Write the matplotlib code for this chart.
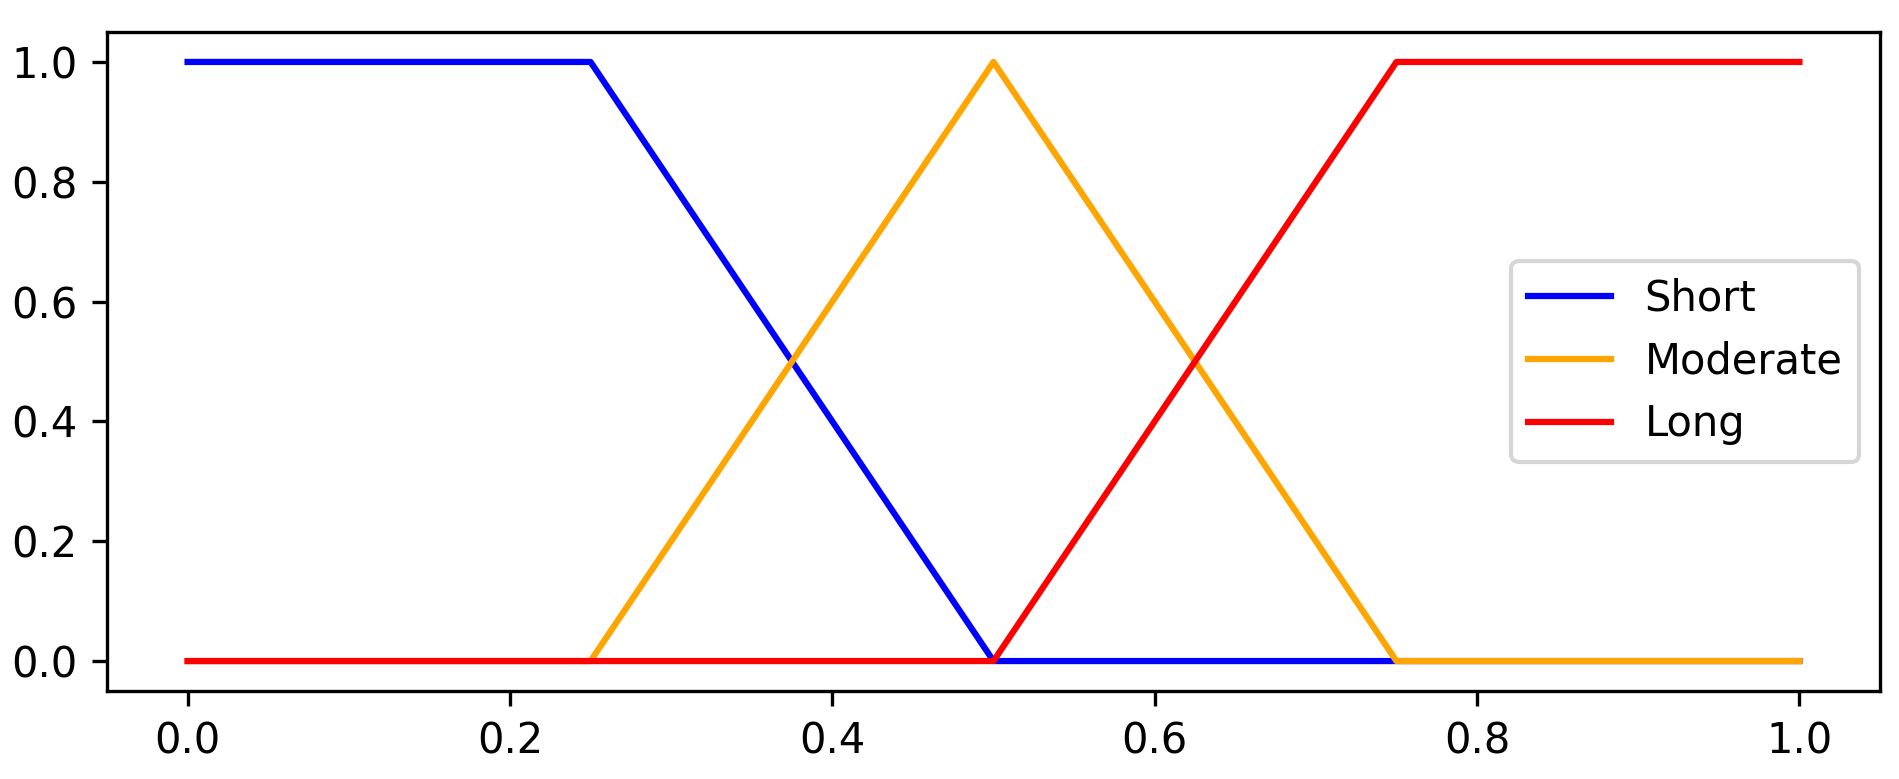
import matplotlib
matplotlib.use("Agg")
import matplotlib.pyplot as plt

# membership function breakpoints
x_short = [0.0, 0.25, 0.5, 1.0]
y_short = [1.0, 1.0, 0.0, 0.0]

x_moderate = [0.0, 0.25, 0.5, 0.75, 1.0]
y_moderate = [0.0, 0.0, 1.0, 0.0, 0.0]

x_long = [0.0, 0.5, 0.75, 1.0]
y_long = [0.0, 0.0, 1.0, 1.0]

fig = plt.figure(figsize=(1899 / 300, 779 / 300), dpi=300)
ax = fig.add_axes([107 / 1899, 88 / 779, (1880 - 107) / 1899, (691 - 32) / 779])

ax.plot(x_short, y_short, "b", linewidth=1.5, label="Short")
ax.plot(x_moderate, y_moderate, color="orange", linewidth=1.5, label="Moderate")
ax.plot(x_long, y_long, "r", linewidth=1.5, label="Long")

ax.legend(loc="center right")

fig.savefig("out.png", dpi=300)
